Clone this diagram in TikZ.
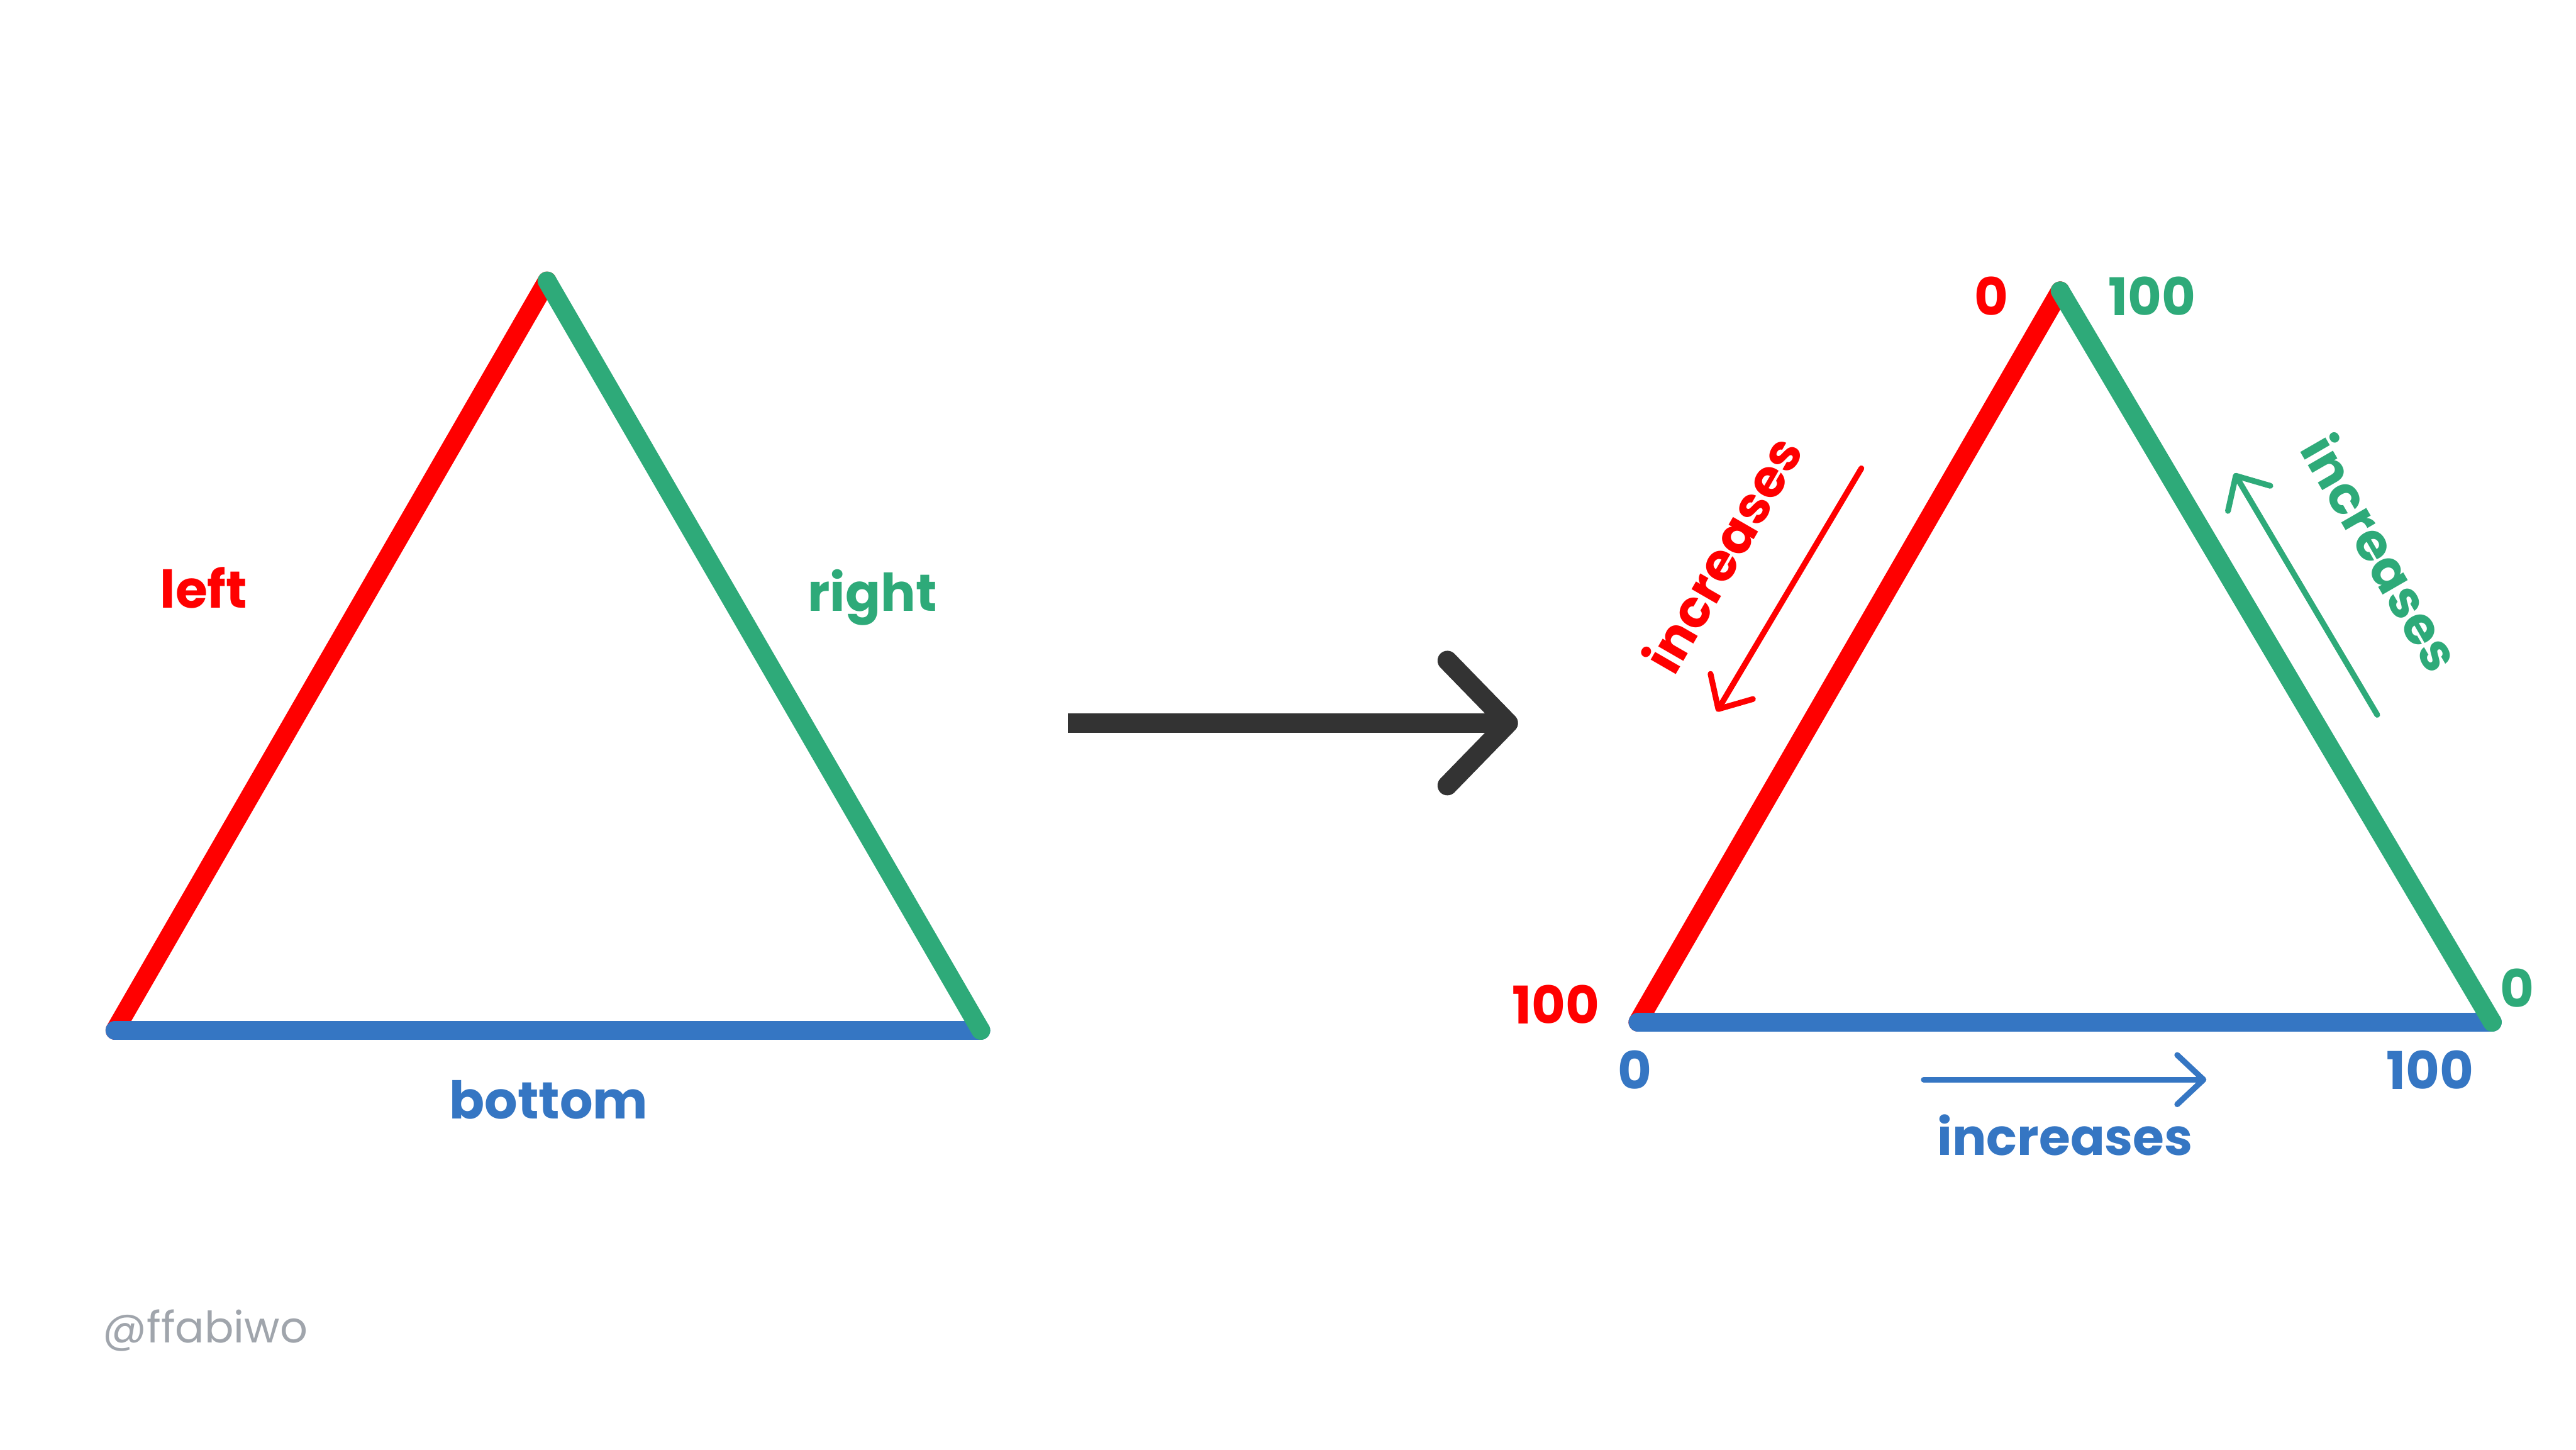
\documentclass[tikz,border=0pt]{standalone}
\usepackage{fontspec}
\setmainfont{Poppins}
\usetikzlibrary{arrows.meta}
\definecolor{sidered}{RGB}{255,0,0}
\definecolor{sidegreen}{RGB}{46,170,121}
\definecolor{sideblue}{RGB}{53,118,195}
\definecolor{arrowgray}{RGB}{51,51,51}
\definecolor{markgray}{RGB}{160,165,172}
\begin{document}
\begin{tikzpicture}[
    side/.style={line width=0.115cm, line cap=round},
    lbl/.style={font=\bfseries\fontsize{9}{9}\selectfont, inner sep=0pt},
    thinarrow/.style={line width=0.035cm, line cap=round,
      -{Straight Barb[length=0.16cm, width=0.30cm, round]}},
  ]
  \useasboundingbox (0,0) rectangle (15.68,8.82);

  % before
  \coordinate (ltop) at (3.33,7.11);
  \coordinate (lleft) at (0.70,2.55);
  \coordinate (lright) at (5.97,2.55);
  \draw[side, sidered] (ltop) -- (lleft);
  \draw[side, sideblue] (lleft) -- (lright);
  \draw[side, sidegreen] (lright) -- (ltop);
  \node[lbl, sidered, anchor=base] (leftlbl) at (1.24,5.12) {left};
  \node[lbl, sidegreen, anchor=base] (rightlbl) at (5.31,5.10) {right};
  \node[lbl, sideblue, anchor=base] (bottomlbl) at (3.34,2.01) {bottom};

  % big arrow
  \coordinate (bstart) at (6.50,4.42);
  \coordinate (bend) at (9.18,4.42);
  \coordinate (bup) at (8.81,4.80);
  \coordinate (bdown) at (8.81,4.04);
  \draw[arrowgray, line width=0.12cm] (bstart) -- (bend);
  \draw[arrowgray, line width=0.12cm, line cap=round, line join=round]
    (bup) -- (bend) -- (bdown);

  % after
  \coordinate (rtop) at (12.54,7.05);
  \coordinate (rleft) at (9.97,2.60);
  \coordinate (rright) at (15.17,2.60);
  \draw[side, sidered] (rtop) -- (rleft);
  \draw[side, sideblue] (rleft) -- (rright);
  \draw[side, sidegreen] (rright) -- (rtop);

  \node[lbl, sidered, anchor=base] (redzero) at (12.12,6.90) {0};
  \node[lbl, sidegreen, anchor=base] (greenhundred) at (13.10,6.90) {100};
  \node[lbl, sidered, anchor=base] (redhundred) at (9.47,2.59) {100};
  \node[lbl, sidegreen, anchor=base] (greenzero) at (15.32,2.69) {0};
  \node[lbl, sideblue, anchor=base] (bluezero) at (9.95,2.19) {0};
  \node[lbl, sideblue, anchor=base] (bluehundred) at (14.79,2.19) {100};

  \node[lbl, sidered, rotate=60] (redinc) at (10.48,5.45) {increases};
  \node[lbl, sidegreen, rotate=-60] (greeninc) at (14.50,5.46) {increases};
  \node[lbl, sideblue, anchor=base, font=\bfseries\fontsize{8.8}{8.8}\selectfont] (blueinc) at (12.57,1.79) {increases};

  \coordinate (redfrom) at (11.33,5.97);
  \coordinate (redto) at (10.45,4.49);
  \coordinate (greenfrom) at (14.47,4.47);
  \coordinate (greento) at (13.60,5.94);
  \coordinate (bluefrom) at (11.71,2.25);
  \coordinate (blueto) at (13.43,2.25);
  \draw[thinarrow, sidered] (redfrom) -- (redto);
  \draw[thinarrow, sidegreen] (greenfrom) -- (greento);
  \draw[thinarrow, sideblue] (bluefrom) -- (blueto);

  \node[markgray, font=\fontsize{7.5}{7.5}\selectfont, anchor=base] (mark) at (1.25,0.65) {@ffabiwo};
\end{tikzpicture}
\end{document}
